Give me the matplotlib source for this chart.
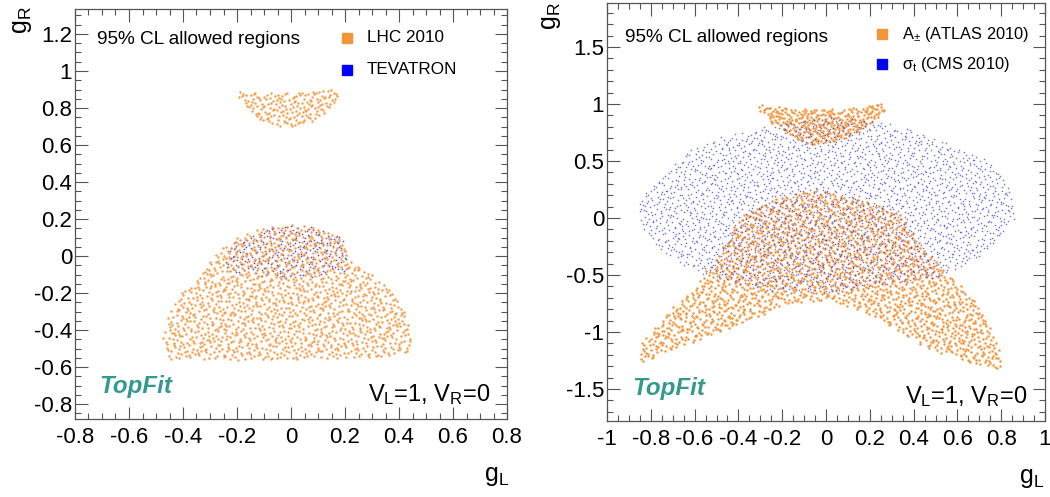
import numpy as np
import matplotlib
matplotlib.use('Agg')
import matplotlib.pyplot as plt
from matplotlib.path import Path
from matplotlib.ticker import MultipleLocator, FixedLocator

plt.rcParams['font.family'] = ['Liberation Sans', 'DejaVu Sans']
plt.rcParams['mathtext.fontset'] = 'custom'
plt.rcParams['mathtext.rm'] = 'Liberation Sans'
plt.rcParams['mathtext.it'] = 'Liberation Sans:italic'

# --- allowed-region outlines (g_L, g_R) ---
lhc_upper = [(-0.2, 0.86), (-0.19, 0.885), (0.0, 0.885), (0.17, 0.9), (0.18, 0.86),
             (0.15, 0.8), (0.1, 0.745), (0.03, 0.7), (-0.05, 0.7), (-0.12, 0.74),
             (-0.17, 0.8)]
lhc_lower = [(-0.46, -0.555), (-0.475, -0.42), (-0.45, -0.3), (-0.41, -0.2),
             (-0.34, -0.1), (-0.29, 0.0), (-0.21, 0.1), (-0.1, 0.155), (0.0, 0.175),
             (0.1, 0.16), (0.19, 0.1), (0.22, 0.0), (0.3, -0.1), (0.38, -0.2),
             (0.42, -0.3), (0.445, -0.42), (0.44, -0.52), (0.35, -0.545),
             (0.2, -0.555), (0.0, -0.56), (-0.2, -0.56), (-0.35, -0.555)]
tevatron = [(-0.25, -0.04), (-0.21, 0.08), (-0.1, 0.15), (0.0, 0.17), (0.1, 0.155),
            (0.19, 0.1), (0.21, 0.0), (0.2, -0.08), (0.1, -0.11), (0.0, -0.12),
            (-0.15, -0.1), (-0.23, -0.08)]

atlas_upper = [(-0.31, 1.0), (-0.2, 0.97), (-0.05, 0.95), (0.1, 0.96), (0.22, 0.99),
               (0.27, 1.02), (0.27, 0.95), (0.22, 0.85), (0.15, 0.75), (0.05, 0.68),
               (-0.05, 0.64), (-0.13, 0.68), (-0.2, 0.78), (-0.26, 0.85), (-0.3, 0.93)]
atlas_arch = [(-0.85, -1.25), (-0.85, -1.12), (-0.78, -0.95), (-0.7, -0.78),
              (-0.6, -0.6), (-0.55, -0.45), (-0.47, -0.25), (-0.4, 0.0), (-0.32, 0.1),
              (-0.19, 0.2), (-0.05, 0.24), (0.09, 0.2), (0.28, 0.1), (0.36, 0.0),
              (0.44, -0.25), (0.56, -0.5), (0.62, -0.6), (0.69, -0.75), (0.76, -1.0),
              (0.8, -1.2), (0.8, -1.32), (0.68, -1.29), (0.45, -1.13), (0.3, -0.95),
              (0.15, -0.81), (0.0, -0.72), (-0.16, -0.75), (-0.31, -0.87),
              (-0.46, -0.98), (-0.61, -1.09), (-0.77, -1.2), (-0.83, -1.27)]
cms = [(-0.86, 0.1), (-0.84, 0.19), (-0.74, 0.39), (-0.61, 0.62), (-0.45, 0.73),
       (-0.31, 0.79), (0.0, 0.89), (0.3, 0.83), (0.53, 0.68), (0.73, 0.51),
       (0.85, 0.27), (0.86, -0.02), (0.73, -0.31), (0.53, -0.51), (0.0, -0.66),
       (-0.31, -0.63), (-0.58, -0.48), (-0.72, -0.34), (-0.83, -0.13)]

# number of scan points drawn in each region
n_lhc_upper, n_lhc_lower, n_tevatron = 170, 1350, 260
n_atlas_upper, n_atlas_arch, n_cms = 320, 2000, 2700

orange = '#f5953a'
blue = '#4040e6'
teal = '#34998f'


def halton(i, base):
    f, r = 1.0, 0.0
    while i > 0:
        f /= base
        r += f * (i % base)
        i //= base
    return r


def fill_region(poly, n, offset=1):
    # deterministic low-discrepancy points inside an outline
    pts = np.array(poly)
    path = Path(pts)
    x0, y0 = pts.min(axis=0)
    x1, y1 = pts.max(axis=0)
    out = []
    i = offset
    while len(out) < n:
        x = x0 + (x1 - x0) * halton(i, 2)
        y = y0 + (y1 - y0) * halton(i, 3)
        if path.contains_point((x, y)):
            out.append((x, y))
        i += 1
    return np.array(out)


W, H = 1050, 497


def px(x, y):
    return x / W, 1 - y / H


def style_axes(ax, xlim, ylim, xmaj, xmin, ymaj, ymin):
    ax.set_xlim(*xlim)
    ax.set_ylim(*ylim)
    ax.xaxis.set_major_locator(FixedLocator(xmaj))
    ax.xaxis.set_minor_locator(MultipleLocator(xmin))
    ax.yaxis.set_major_locator(FixedLocator(ymaj))
    ax.yaxis.set_minor_locator(MultipleLocator(ymin))
    ax.tick_params(which='both', direction='in', top=True, right=True,
                   color='#555555', width=0.8)
    ax.tick_params(which='major', length=9, labelsize=16)
    ax.tick_params(which='minor', length=4.5)
    ax.tick_params(axis='x', pad=6)
    ax.tick_params(axis='y', pad=2)
    for s in ax.spines.values():
        s.set_color('#555555')
        s.set_linewidth(0.9)


def fmt(v):
    s = ('%.1f' % v).rstrip('0').rstrip('.')
    return '0' if s in ('-0', '0') else s


fig = plt.figure(figsize=(10.5, 4.97), dpi=100)

# ---- left panel ----
ax1 = fig.add_axes([75 / W, 1 - 419 / H, 432 / W, 410 / H])
p = fill_region(tevatron, n_tevatron, 401)
ax1.scatter(p[:, 0], p[:, 1], s=1.5, color=blue, linewidths=0, alpha=0.9)
for poly, n, off in [(lhc_upper, n_lhc_upper, 7), (lhc_lower, n_lhc_lower, 11)]:
    p = fill_region(poly, n, off)
    ax1.scatter(p[:, 0], p[:, 1], s=3.2, color=orange, linewidths=0, alpha=0.9)
xt1 = np.round(np.arange(-0.8, 0.81, 0.2), 1)
yt1 = np.round(np.arange(-0.8, 1.21, 0.2), 1)
style_axes(ax1, (-0.8, 0.8), (-0.88, 1.335), xt1, 0.05, yt1, 0.05)
ax1.set_xticklabels([fmt(v) for v in xt1])
ax1.set_yticklabels([fmt(v) for v in yt1])

# ---- right panel ----
ax2 = fig.add_axes([607 / W, 1 - 421 / H, 438 / W, 418 / H])
for poly, n, off in [(atlas_upper, n_atlas_upper, 13), (atlas_arch, n_atlas_arch, 17)]:
    p = fill_region(poly, n, off)
    ax2.scatter(p[:, 0], p[:, 1], s=3.2, color=orange, linewidths=0)
p = fill_region(cms, n_cms, 503)
ax2.scatter(p[:, 0], p[:, 1], s=1.3, color=blue, linewidths=0, alpha=0.75)
xt2 = np.round(np.arange(-1.0, 1.01, 0.2), 1)
yt2 = [-1.5, -1, -0.5, 0, 0.5, 1, 1.5]
style_axes(ax2, (-1.0, 1.0), (-1.78, 1.886), xt2, 0.05, yt2, 0.1)
ax2.set_xticklabels([fmt(v) for v in xt2])
ax2.set_yticklabels([fmt(v) for v in yt2])

# ---- labels and annotations ----
fig.text(*px(22, 20), r'$\mathrm{g}_\mathrm{R}$', fontsize=18, rotation=90,
         ha='center', va='center')
fig.text(*px(497, 476), r'$\mathrm{g}_\mathrm{L}$', fontsize=18, ha='center', va='center')
fig.text(*px(551, 16), r'$\mathrm{g}_\mathrm{R}$', fontsize=18, rotation=90,
         ha='center', va='center')
fig.text(*px(1032, 478), r'$\mathrm{g}_\mathrm{L}$', fontsize=18, ha='center', va='center')

fig.text(*px(97, 40), '95% CL allowed regions', fontsize=13.7, va='center')
fig.text(*px(625, 38), '95% CL allowed regions', fontsize=13.7, va='center')

sq = 10
for (cx, cy), col in [((347, 38), orange), ((347, 70), '#0000ff'),
                      ((882, 34), orange), ((882, 64), '#0000ff')]:
    fig.patches.append(plt.Rectangle(px(cx - sq / 2, cy + sq / 2), sq / W, sq / H,
                                     transform=fig.transFigure, color=col))
fig.text(*px(367, 38), 'LHC 2010', fontsize=12.3, va='center')
fig.text(*px(367, 70), 'TEVATRON', fontsize=12.3, va='center')
fig.text(*px(902, 34), r'$\mathrm{A}_{\pm}$ (ATLAS 2010)', fontsize=11.8, va='center')
fig.text(*px(902, 64), r'σ$_\mathrm{t}$ (CMS 2010)', fontsize=11.8, va='center')

fig.text(*px(99, 387), 'TopFit', fontsize=17.4, fontweight='bold', fontstyle='italic',
         color=teal, va='center')
fig.text(*px(632, 388), 'TopFit', fontsize=17.4, fontweight='bold', fontstyle='italic',
         color=teal, va='center')
fig.text(*px(490, 401), r'$\mathrm{V}_\mathrm{L}$=1, $\mathrm{V}_\mathrm{R}$=0',
         fontsize=17, ha='right', va='baseline')
fig.text(*px(1027, 403), r'$\mathrm{V}_\mathrm{L}$=1, $\mathrm{V}_\mathrm{R}$=0',
         fontsize=17, ha='right', va='baseline')

fig.savefig('out.png', dpi=100, facecolor='white')
